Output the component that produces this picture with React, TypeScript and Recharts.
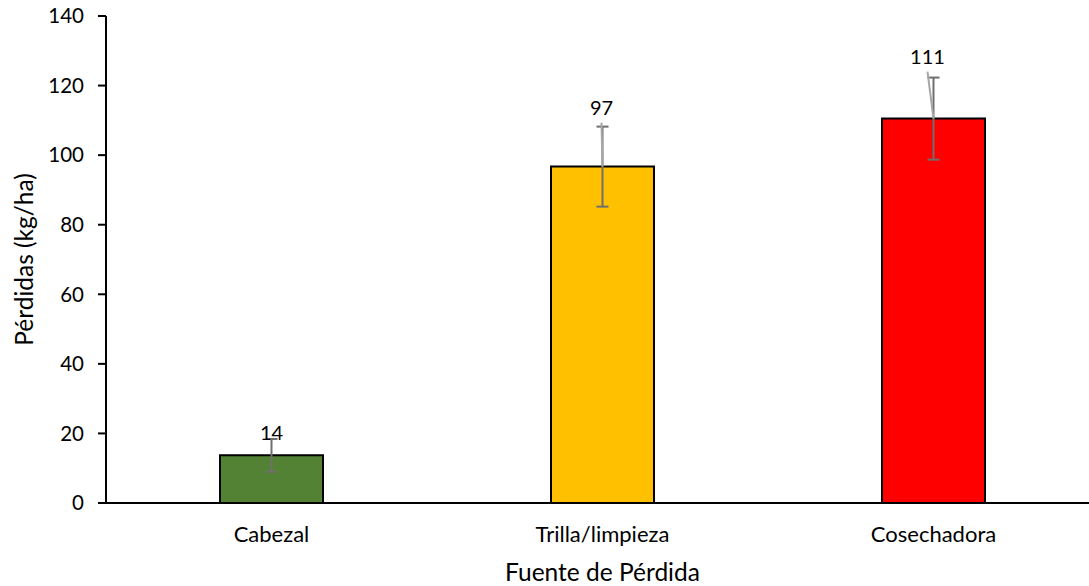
import { BarChart, Bar, XAxis, YAxis, Cell, ErrorBar, LabelList, Label } from "recharts";

const categories = ["Cabezal", "Trilla/limpieza", "Cosechadora"];
const losses = [13.7, 96.7, 110.5];
const errors = [4.7, 11.5, 11.8];
const labelTexts = ["14", "97", "111"];
const yTicks = [0, 20, 40, 60, 80, 100, 120, 140];

const BAR_COLORS = ["#548235", "#ffc000", "#ff0000"];
const FONT = "Lato, 'Open Sans', sans-serif";

// manual label nudges, like the moved labels in the original
const LABEL_NUDGE = [
  { dx: 0, dy: -7, leader: false },
  { dx: -1, dy: -20, leader: true },
  { dx: -6, dy: -22, leader: true },
];

const data = categories.map((name, i) => ({
  name,
  value: losses[i],
  err: errors[i],
  text: labelTexts[i],
}));

function ValueLabel(props: any) {
  const { x, y, width, height, index } = props;
  const d = data[index];
  const perUnit = height / d.value;
  const cx = x + width / 2;
  const errTop = y - d.err * perUnit;
  const n = LABEL_NUDGE[index];
  const ly = errTop + n.dy;
  const lx = cx + n.dx;
  return (
    <g>
      {n.leader && (
        <line x1={lx} y1={ly + 16} x2={cx} y2={y} stroke="#a6a6a6" strokeWidth={2} />
      )}
      <text
        x={lx}
        y={ly}
        textAnchor="middle"
        dominantBaseline="central"
        fontFamily={FONT}
        fontSize={20}
        fill="#000"
      >
        {d.text}
      </text>
    </g>
  );
}

export default function App() {
  return (
    <div style={{ width: 1089, height: 586, overflow: "hidden", background: "#fff" }}>
      <style>{`body{margin:0}`}</style>
      <BarChart
        width={1110}
        height={586}
        data={data}
        margin={{ top: 16, right: 11, bottom: 0, left: 0 }}
        barSize={103}
      >
        <XAxis
          dataKey="name"
          height={83}
          axisLine={{ stroke: "#000", strokeWidth: 2 }}
          tickLine={false}
          tickSize={0}
          tickMargin={23}
          tick={{ fill: "#000", fontFamily: FONT, fontSize: 22 }}
        >
          <Label
            value="Fuente de Pérdida"
            position="insideBottom"
            offset={5}
            fill="#000"
            fontFamily={FONT}
            fontSize={24.5}
          />
        </XAxis>
        <YAxis
          width={106}
          domain={[0, 140]}
          ticks={yTicks}
          interval={0}
          axisLine={{ stroke: "#000", strokeWidth: 2 }}
          tickLine={{ stroke: "#000", strokeWidth: 2 }}
          tickSize={8}
          tickMargin={14}
          tick={{ fill: "#000", fontFamily: FONT, fontSize: 20.5 }}
        >
          <Label
            value="Pérdidas (kg/ha)"
            angle={-90}
            position="insideLeft"
            offset={24}
            style={{ textAnchor: "middle" }}
            fill="#000"
            fontFamily={FONT}
            fontSize={24.5}
          />
        </YAxis>
        <Bar dataKey="value" stroke="#000" strokeWidth={2} isAnimationActive={false}>
          {data.map((d, i) => (
            <Cell key={d.name} fill={BAR_COLORS[i]} />
          ))}
          <ErrorBar dataKey="err" width={6} strokeWidth={2} stroke="#6f6f6f" />
          <LabelList dataKey="value" content={ValueLabel} />
        </Bar>
      </BarChart>
    </div>
  );
}
